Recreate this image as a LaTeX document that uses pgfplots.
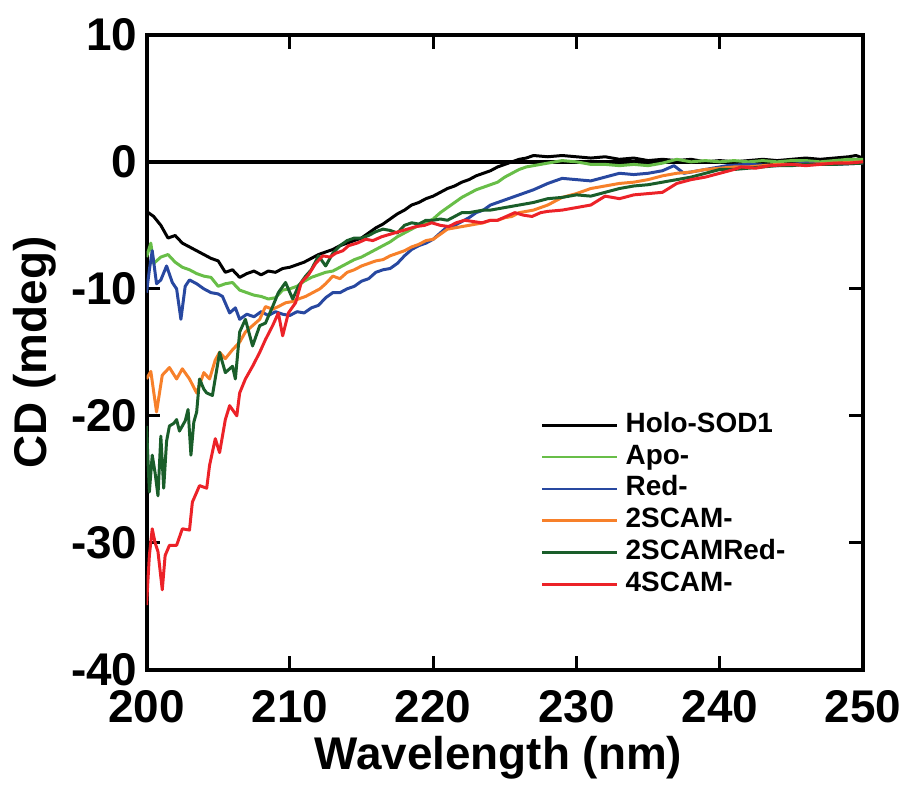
\documentclass[border=0pt]{standalone}
\usepackage{fontspec}
\setmainfont{Liberation Sans}
\usepackage{pgfplots}
\pgfplotsset{compat=1.18}
\definecolor{cApo}{RGB}{104,190,72}
\definecolor{cRed}{RGB}{40,72,160}
\definecolor{cTwo}{RGB}{247,128,42}
\definecolor{cTwoRed}{RGB}{26,94,42}
\definecolor{cFour}{RGB}{236,34,40}
\begin{document}
\begin{tikzpicture}
\begin{axis}[
  scale only axis, width=359.5pt, height=318.5pt,
  xmin=200, xmax=250, ymin=-40, ymax=10,
  xtick={200,210,220,230,240,250}, xticklabels={200,210,220,230,240,250},
  ytick={-40,-30,-20,-10,0,10}, yticklabels={-40,-30,-20,-10,0,10},
  tick align=inside, major tick length=7pt, minor tick num=0,
  axis line style={line width=2pt},
  every tick/.style={line width=1.5pt, black},
  ticklabel style={font=\fontsize{23}{27}\selectfont\bfseries},
  xticklabel style={yshift=-7pt},
  yticklabel style={xshift=-1pt},
  label style={font=\fontsize{23}{27}\selectfont\bfseries},
  xlabel={Wavelength (nm)}, ylabel={CD (mdeg)},
  xlabel style={at={(axis description cs:0.491,-0.138)}, anchor=center},
  ylabel style={at={(axis description cs:-0.156,0.5)}, anchor=center},
  legend style={at={(rel axis cs:0.55,0.411)}, anchor=north west, draw=none, fill=none,
    font=\fontsize{14}{16}\selectfont\bfseries, row sep=0pt, inner sep=0pt,
    nodes={inner sep=1.5pt, text height=10pt, text depth=3pt}},
  legend cell align=left,
  legend image code/.code={\draw[#1, line width=1.4pt] (2pt,0pt) -- (39.5pt,0pt); \path (41.5pt,0pt);},
  every axis plot/.append style={line width=1.5pt, line join=round},
]
\addplot[black, line width=1.8pt, forget plot] coordinates {(200,0) (250,0)};

\addplot[black] coordinates {
(200,-3.9) (200.5,-4.3) (201,-5.0) (201.5,-6.0) (202,-5.8) (202.5,-6.4) (203,-6.7) (203.5,-7.0)
(204,-7.3) (204.5,-7.6) (205,-7.8) (205.5,-8.7) (206,-8.5) (206.5,-9.1) (207,-8.8) (207.5,-8.6)
(208,-8.9) (208.5,-8.6) (209,-8.7) (209.5,-8.4) (210,-8.3) (210.5,-8.1) (211,-7.9) (211.5,-7.6)
(212,-7.3) (212.5,-7.1) (213,-6.9) (213.5,-6.6) (214,-6.4) (214.5,-6.2) (215,-6.0) (215.5,-5.6)
(216,-5.2) (216.5,-4.9) (217,-4.5) (217.5,-4.1) (218,-3.8) (218.5,-3.4) (219,-3.2) (219.5,-2.9)
(220,-2.7) (220.5,-2.4) (221,-2.1) (221.5,-1.9) (222,-1.6) (222.5,-1.4) (223,-1.1) (223.5,-0.9)
(224,-0.7) (224.5,-0.4) (225,-0.2) (225.5,0.0) (226,0.2) (226.5,0.3) (227,0.5) (228,0.4)
(229,0.5) (230,0.4) (231,0.3) (232,0.4) (233,0.2) (234,0.3) (235,0.1) (236,0.2) (237,0.1)
(238,0.2) (239,0.0) (240,0.1) (241,0.0) (242,0.1) (243,0.2) (244,0.1) (245,0.2) (246,0.3)
(247,0.2) (248,0.3) (249,0.4) (249.5,0.5) (250,0.3)};
\addlegendentry{Holo-SOD1}

\addplot[cApo] coordinates {
(200,-7.5) (200.3,-6.4) (200.5,-8.0) (201,-7.5) (201.5,-7.3) (202,-7.9) (202.5,-8.3) (203,-8.5)
(203.5,-8.8) (204,-9.0) (204.5,-9.1) (205,-9.8) (205.5,-9.6) (206,-9.5) (206.5,-10.1) (207,-10.3)
(207.5,-10.5) (208,-10.6) (208.5,-10.8) (209,-10.7) (209.5,-10.1) (210,-10.0) (210.5,-9.8) (211,-9.4)
(211.5,-9.1) (212,-8.9) (212.5,-8.7) (213,-8.6) (213.5,-8.3) (214,-8.0) (214.5,-7.7) (215,-7.5)
(215.5,-7.2) (216,-6.9) (216.5,-6.6) (217,-6.3) (217.5,-5.9) (218,-5.6) (218.5,-5.3) (219,-5.0)
(219.5,-4.8) (220,-4.5) (220.5,-4.0) (221,-3.6) (221.5,-3.2) (222,-2.8) (222.5,-2.5) (223,-2.2)
(223.5,-2.0) (224,-1.8) (224.5,-1.6) (225,-1.2) (225.5,-0.9) (226,-0.6) (226.5,-0.4) (227,-0.3)
(228,-0.1) (229,0.1) (230,0.0) (231,-0.2) (232,-0.2) (233,-0.3) (234,-0.2) (235,-0.3) (236,-0.1)
(237,0.2) (238,0.0) (239,0.1) (240,0.0) (241,0.1) (242,0.0) (243,0.1) (244,0.0) (245,0.1)
(246,0.1) (247,0.0) (248,0.1) (249,0.2) (250,0.2)};
\addlegendentry{Apo-}

\addplot[cRed] coordinates {
(200,-10.3) (200.2,-8.5) (200.4,-7.0) (200.7,-9.6) (201,-9.3) (201.4,-8.2) (201.8,-9.5) (202.1,-10.0)
(202.4,-12.4) (202.7,-9.8) (203,-9.3) (203.5,-9.6) (204,-10.0) (204.5,-10.3) (205,-10.4) (205.3,-10.6)
(205.8,-11.9) (206.2,-11.5) (206.5,-12.4) (207,-12.0) (207.5,-12.2) (208,-11.8) (208.5,-12.1) (209,-11.8)
(209.5,-12.0) (210,-12.1) (210.5,-11.8) (211,-11.9) (211.5,-11.5) (212,-11.3) (212.5,-10.7) (213,-10.3)
(213.5,-10.3) (214,-10.0) (214.5,-9.8) (215,-9.4) (215.5,-9.2) (216,-8.7) (216.5,-8.5) (217,-8.4)
(217.5,-8.0) (218,-7.4) (218.5,-6.9) (219,-6.6) (219.5,-6.4) (220,-6.1) (220.5,-5.6) (221,-5.1)
(221.5,-5.0) (222,-4.7) (222.5,-4.4) (223,-4.0) (223.5,-3.8) (224,-3.4) (224.5,-3.2) (225,-3.0)
(225.5,-2.8) (226,-2.6) (226.5,-2.4) (227,-2.2) (228,-1.7) (229,-1.3) (230,-1.4) (231,-1.5)
(232,-1.2) (233,-0.9) (234,-1.0) (235,-0.9) (236,-0.7) (236.8,-0.3) (237.5,-0.9) (238.5,-0.7)
(239.5,-0.5) (240.5,-0.3) (242,-0.2) (244,-0.3) (246,-0.1) (248,-0.2) (250,-0.1)};
\addlegendentry{Red-}

\addplot[cTwo] coordinates {
(200,-17.1) (200.3,-16.5) (200.7,-19.7) (201.1,-16.8) (201.6,-16.2) (202.1,-17.1) (202.5,-16.3) (203,-17.1)
(203.5,-18.2) (204,-16.6) (204.4,-17.1) (204.8,-15.6) (205.1,-15.0) (205.5,-15.5) (206,-14.8) (206.5,-14.2)
(206.9,-13.4) (207.4,-12.9) (207.9,-12.4) (208.3,-11.4) (208.8,-11.6) (209.2,-11.4) (209.7,-11.1) (210.2,-11.0)
(210.6,-10.8) (211.1,-10.6) (211.6,-10.3) (212.1,-10.0) (212.5,-9.6) (213,-9.0) (213.5,-9.2) (214,-8.7)
(214.5,-8.5) (215,-8.2) (215.5,-8.0) (216,-7.8) (216.5,-7.7) (217,-7.4) (217.5,-7.2) (218,-7.0)
(218.5,-6.7) (219,-6.5) (219.5,-6.2) (220,-6.1) (220.5,-5.7) (221,-5.3) (221.5,-5.2) (222,-5.1)
(222.5,-5.0) (223,-4.9) (223.5,-4.8) (224,-4.6) (224.5,-4.6) (225,-4.4) (225.5,-4.3) (226,-4.0)
(226.5,-3.9) (227,-3.8) (228,-3.4) (229,-2.8) (230,-2.5) (231,-2.1) (232,-1.9) (233,-1.7)
(234,-1.6) (235,-1.4) (236,-1.1) (237,-0.9) (238,-0.8) (239,-0.6) (240,-0.5) (241,-0.4)
(242,-0.4) (243,-0.3) (244,-0.2) (246,-0.2) (248,-0.1) (250,0.0)};
\addlegendentry{2SCAM-}

\addplot[cTwoRed] coordinates {
(200,-20.8) (200.2,-26.0) (200.4,-23.1) (200.6,-24.5) (200.8,-26.3) (201.0,-21.6) (201.2,-25.7) (201.4,-22.0)
(201.6,-20.8) (201.9,-20.6) (202.1,-20.3) (202.3,-21.2) (202.5,-20.8) (202.7,-20.4) (202.9,-19.5) (203.1,-23.1)
(203.3,-20.5) (203.5,-19.7) (203.7,-17.1) (204.0,-17.9) (204.2,-18.2) (204.6,-18.4) (205.1,-15.0) (205.5,-16.6)
(206.0,-16.1) (206.2,-17.1) (206.5,-13.4) (206.9,-12.4) (207.4,-14.5) (207.9,-12.9) (208.3,-12.7) (208.8,-11.4)
(209.2,-10.3) (209.7,-9.5) (210.2,-10.8) (210.6,-9.8) (211.1,-9.0) (211.5,-8.5) (212.0,-7.4) (212.5,-8.2)
(213,-7.2) (213.5,-6.6) (214,-6.2) (214.5,-6.0) (215,-6.0) (215.5,-5.8) (216,-5.5) (216.5,-5.3)
(217,-5.4) (217.5,-5.6) (218,-5.0) (218.5,-4.8) (219,-4.9) (219.5,-4.6) (220,-4.6) (220.5,-4.5)
(221,-4.6) (221.5,-4.3) (222,-4.0) (222.5,-4.0) (223,-3.9) (223.5,-3.8) (224,-3.8) (224.5,-3.7)
(225,-3.6) (225.5,-3.5) (226,-3.4) (226.5,-3.3) (227,-3.2) (228,-2.9) (229,-2.8) (230,-2.6)
(231,-2.7) (232,-2.4) (233,-2.1) (234,-1.9) (235,-1.8) (236,-1.6) (237,-1.4) (238,-1.2)
(239,-0.9) (240,-0.6) (241,-0.6) (242,-0.5) (243,-0.4) (244,-0.3) (245,-0.3) (246,-0.2)
(248,-0.2) (250,-0.1)};
\addlegendentry{2SCAMRed-}

\addplot[cFour] coordinates {
(200,-34.9) (200.2,-31.0) (200.4,-28.9) (200.6,-30.0) (200.8,-30.7) (201.1,-33.7) (201.3,-31.0) (201.6,-30.2)
(202.1,-30.2) (202.5,-28.9) (203.0,-29.0) (203.2,-26.8) (203.7,-25.5) (204.2,-25.7) (204.4,-23.9) (204.8,-21.8)
(205.1,-22.9) (205.5,-20.3) (205.8,-19.2) (206.3,-20.0) (206.5,-18.2) (206.9,-17.1) (207.4,-16.1) (207.9,-15.0)
(208.3,-14.0) (208.8,-12.9) (209.2,-11.9) (209.5,-13.7) (209.9,-11.9) (210.4,-11.1) (210.8,-9.5) (211.3,-8.9)
(211.8,-8.0) (212.3,-7.4) (212.8,-7.5) (213.2,-7.2) (213.7,-7.0) (214.1,-6.6) (214.7,-6.4) (215.3,-6.1)
(215.8,-6.2) (216.4,-5.9) (217,-5.7) (217.6,-5.5) (218.2,-5.3) (218.8,-5.1) (219.4,-5.0) (219.9,-4.8)
(220.5,-5.0) (221.1,-5.1) (221.6,-4.8) (222.2,-4.6) (222.8,-4.7) (223.4,-4.8) (224,-4.6) (224.5,-4.6)
(225.1,-4.3) (225.7,-4.0) (226.3,-4.2) (226.9,-4.3) (227.5,-4.0) (228,-3.9) (229,-3.8) (230,-3.6)
(231,-3.4) (232,-2.7) (233,-2.9) (234,-2.6) (235,-2.5) (236,-2.4) (237,-1.7) (238,-1.4)
(239,-1.2) (240,-0.9) (241,-0.6) (241.5,-0.4) (242.5,-0.5) (243.5,-0.3) (245,-0.2) (246,-0.3)
(247,-0.2) (248,-0.1) (249,-0.1) (250,0.0)};
\addlegendentry{4SCAM-}
\end{axis}
\path ([shift={(-73.5pt,-56.5pt)}]current axis.south west) rectangle ([shift={(21pt,17.5pt)}]current axis.north east);
\end{tikzpicture}
\end{document}
